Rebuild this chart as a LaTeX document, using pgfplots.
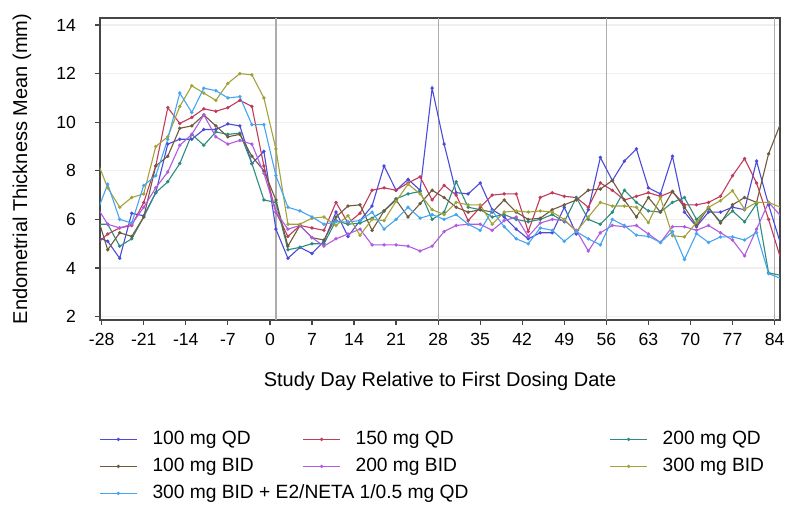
\documentclass[border=0pt]{standalone}
\usepackage{fontspec}
\setmainfont{Liberation Sans}
\usepackage{pgfplots}
\usepackage{pgfplotstable}
\pgfplotsset{compat=1.18}

\definecolor{cA}{HTML}{4B4BD8}
\definecolor{cB}{HTML}{C13B5A}
\definecolor{cC}{HTML}{2E8B7E}
\definecolor{cD}{HTML}{6E5B3E}
\definecolor{cE}{HTML}{B05BE0}
\definecolor{cF}{HTML}{A3A23A}
\definecolor{cG}{HTML}{45A5F0}

% endometrial thickness mean (mm) by study day, one column per arm
\pgfplotstableread{
day a b c d e f g
-29 5.3 4.95 5.8 6.35 6.6 8.55 6.15
-27 5.1 5.4 5.8 4.75 5.8 7.3 7.45
-25 4.4 5.65 4.9 5.45 5.65 6.5 6.0
-23 6.25 5.75 5.2 5.3 5.8 6.9 5.85
-21 6.15 6.7 6.1 6.1 6.5 7.05 7.4
-19 7.1 8.2 7.1 8.2 7.3 9.0 7.8
-17 9.1 10.6 7.55 8.6 7.95 9.4 9.3
-15 9.3 9.95 8.3 9.75 9.05 10.65 11.2
-13 9.3 10.2 9.5 9.85 9.5 11.5 10.4
-11 9.7 10.55 9.05 10.3 10.3 11.2 11.4
-9 9.7 10.45 9.6 9.85 9.4 10.9 11.3
-7 9.93 10.6 9.5 9.4 9.1 11.6 11.0
-5 9.85 10.9 9.55 9.5 9.25 12.0 11.05
-3 8.3 10.65 8.3 8.6 9.1 11.95 9.9
-1 8.8 8.2 6.8 8.0 7.9 11.0 9.9
1 5.6 6.3 6.7 6.8 6.3 8.9 7.8
3 4.4 5.3 4.75 4.9 5.6 5.8 6.5
5 4.85 5.75 4.85 5.75 5.75 5.8 6.35
7 4.6 5.65 5.0 5.25 5.25 6.05 6.1
9 5.1 5.55 5.0 5.15 4.9 6.1 5.8
11 6.3 6.7 5.95 6.1 5.2 5.75 5.9
13 5.3 5.85 5.8 6.55 5.4 6.15 5.9
15 5.95 6.25 5.85 6.6 5.6 5.35 5.95
17 6.55 7.2 6.05 5.55 4.95 6.0 6.3
19 8.2 7.3 6.35 6.35 4.95 5.95 5.6
21 7.2 7.2 6.85 6.8 4.95 6.75 6.0
23 7.65 7.5 7.05 6.1 4.9 7.45 6.5
25 7.2 7.75 7.15 6.65 4.7 7.05 6.05
27 11.4 6.8 6.0 7.2 4.9 6.4 6.2
29 9.1 7.4 6.3 6.9 5.5 6.2 6.0
31 7.1 7.0 7.55 6.5 5.75 6.7 6.2
33 7.05 5.95 6.5 6.3 5.8 6.6 5.8
35 7.5 6.5 6.4 6.4 5.8 6.6 5.55
37 6.4 7.0 6.1 6.3 5.55 5.8 6.35
39 6.1 7.05 6.2 6.8 5.95 6.3 5.7
41 5.6 7.05 6.0 6.3 6.1 6.35 5.2
43 5.2 5.5 5.9 6.0 5.3 6.3 5.0
45 5.45 6.9 6.0 6.05 5.85 6.35 5.65
47 5.45 7.1 6.2 6.4 6.0 6.3 5.55
49 6.5 6.95 5.9 6.6 5.95 6.0 5.1
51 5.4 6.9 6.9 6.8 5.55 5.5 5.5
53 6.4 6.5 6.0 7.2 4.7 6.1 5.2
55 8.55 7.5 5.8 7.25 5.45 6.7 4.95
57 7.6 7.2 6.3 7.6 5.75 6.55 6.0
59 8.4 6.8 7.2 6.8 5.7 6.55 5.75
61 8.9 6.95 6.7 6.1 5.75 6.5 5.35
63 7.3 7.1 6.35 6.9 5.4 5.87 5.3
65 7.05 6.95 6.3 6.3 5.05 6.9 5.05
67 8.6 7.15 6.7 7.15 5.7 5.33 5.5
69 6.3 6.6 6.9 6.5 5.7 5.28 4.35
71 5.7 6.6 6.0 5.75 5.55 5.87 5.42
73 6.3 6.7 6.45 6.5 5.75 6.5 5.05
75 6.3 6.95 5.9 5.85 5.45 6.77 5.28
77 6.5 7.8 6.35 6.6 5.15 7.18 5.28
79 6.4 8.5 5.9 6.9 4.5 6.42 5.15
81 8.4 7.5 6.65 6.7 5.6 6.7 5.46
83 6.6 6.0 3.8 8.7 6.7 6.7 3.77
85 5.0 4.4 3.7 9.95 6.15 6.5 3.57
}\thick

\pgfplotsset{
  series/.style={line width=0.55pt, mark=*, mark size=0.55pt},
}

\begin{document}
\begin{tikzpicture}
\useasboundingbox (-50pt,-96pt) rectangle (345.5pt,160pt);
\begin{axis}[
    width=340pt, height=151pt, scale only axis,
    xmin=-28.28, xmax=84.9,
    ymin=1.86, ymax=14.29,
    xtick={-28,-21,...,84},
    ytick={2,4,...,14},
    xtick pos=bottom, ytick pos=left,
    tick align=outside,
    major tick length=2.5pt,
    axis line style={gray!55!black, line width=0.6pt},
    tick style={gray!55!black, line width=0.6pt},
    ymajorgrids, grid style={gray!12, line width=0.6pt},
    extra x ticks={1,28,56,84},
    extra x tick labels={},
    extra x tick style={grid=major, major grid style={gray!65, line width=0.6pt}, major tick length=0pt},
    /pgf/number format/assume math mode=true,
    ticklabel style={font=\fontsize{8.8}{10}\selectfont},
    yticklabel style={xshift=-6pt},
    xticklabel style={yshift=-0.5pt},
    xlabel={Study Day Relative to First Dosing Date},
    ylabel={Endometrial Thickness Mean (mm)},
    label style={font=\fontsize{10}{12}\selectfont},
    every axis x label/.style={at={(axis description cs:0.5,-0.202)}, anchor=center},
    every axis y label/.style={at={(axis description cs:-0.1147,0.5)}, anchor=center, rotate=90},
    legend columns=3,
    legend style={at={(axis description cs:0,0)}, anchor=north west,
      xshift=-3.5pt, yshift=-53pt, draw=none, fill=none,
      font=\fontsize{9.6}{11}\selectfont,
      row sep=4.5pt, column sep=0pt,
      nodes={inner sep=0pt, text height=7pt, text depth=2pt},
      /tikz/every odd column/.append style={column sep=7.5pt}},
    legend cell align=left,
    legend image code/.code={
      \draw[#1, mark=none] (0pt,0pt) -- (18.5pt,0pt);
      \fill[#1] (9.25pt,0pt) circle (0.55pt);
    },
]
\addplot[series, cA] table[x=day, y=a]{\thick};
\addlegendentry{\makebox[75pt][l]{100 mg QD}}
\addplot[series, cB] table[x=day, y=b]{\thick};
\addlegendentry{\makebox[127pt][l]{150 mg QD}}
\addplot[series, cC] table[x=day, y=c]{\thick};
\addlegendentry{200 mg QD}
\addplot[series, cD] table[x=day, y=d]{\thick};
\addlegendentry{\makebox[75pt][l]{100 mg BID}}
\addplot[series, cE] table[x=day, y=e]{\thick};
\addlegendentry{\makebox[127pt][l]{200 mg BID}}
\addplot[series, cF] table[x=day, y=f]{\thick};
\addlegendentry{300 mg BID}
\addplot[series, cG] table[x=day, y=g]{\thick};
\addlegendentry{\makebox[75pt][l]{300 mg BID + E2/NETA 1/0.5 mg QD}}
\end{axis}
\end{tikzpicture}
\end{document}
